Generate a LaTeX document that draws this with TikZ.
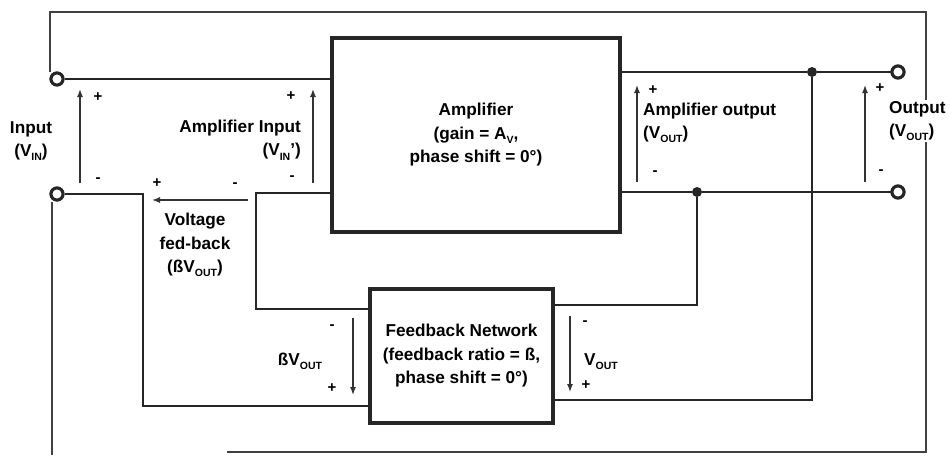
\documentclass[tikz,border=0pt]{standalone}
\usepackage{fontspec}
\setmainfont{Liberation Sans}
\usetikzlibrary{arrows.meta}
\newcommand{\lsub}[1]{\raisebox{-0.45ex}{\fontsize{10.5}{10.5}\selectfont #1}}

\begin{document}
\begin{tikzpicture}[
    x=1pt, y=-1pt,
    font=\fontsize{17.2}{23.5}\selectfont\bfseries,
    box/.style={
        rectangle, draw=black!85, line width=3.3pt,
        align=center, inner sep=0pt
    },
    term/.style={
        circle, draw=black!85, line width=3pt, fill=white,
        minimum size=12pt, inner sep=0pt
    },
    dot/.style={circle, fill=black!85, minimum size=10pt, inner sep=0pt},
    wire/.style={line width=2.7pt, black!85},
    frame/.style={line width=1.3pt, black!75},
    varr/.style={-{Latex[length=8pt,width=6pt]}, line width=1.3pt, black!80},
    sign/.style={font=\fontsize{15}{15}\selectfont\bfseries, inner sep=0pt},
    lbl/.style={inner sep=0pt},
]
\useasboundingbox (0,0) rectangle (950,455);

% Frame
\coordinate (fTL) at (50,12);
\coordinate (fTR) at (926,12);
\coordinate (fBR) at (926,452);
\coordinate (fBL) at (227,452);
\coordinate (fLB) at (52,455);

% Blocks
\node[box, minimum width=288pt, minimum height=194pt] (amp) at (476,135)
    {Amplifier\\(gain = A\lsub{V},\\phase shift = 0°)};
\node[box, minimum width=183pt, minimum height=134pt] (fb) at (461.5,356)
    {Feedback Network\\(feedback ratio = ß,\\phase shift = 0°)};

% Terminals and junctions
\node[term] (inTop) at (57,79) {};
\node[term] (inBot) at (57,194) {};
\node[term] (outTop) at (898,72) {};
\node[term] (outBot) at (898,192) {};
\node[dot] (jTop) at (812,72) {};
\node[dot] (jBot) at (697,192) {};

% Wire corners
\coordinate (c1) at (143,406);
\coordinate (c2) at (256,309);
\coordinate (c3) at (812,400);
\coordinate (c4) at (697,305);
\coordinate (ampInB) at (amp.west |- 0,193);

\draw[frame] (fBL) -- (fBR) -- (fTR) -- (fTL) -- (fTL |- inTop.north);
\draw[frame] (fLB |- inBot.south) -- (fLB);

% Wires
\draw[wire] (inTop) -- (inTop -| amp.west);
\draw[wire] (inBot) -| (c1) -- (c1 -| fb.west);
\draw[wire] (ampInB) -| (c2) -- (c2 -| fb.west);
\draw[wire] (amp.east |- outTop) -- (jTop) -- (outTop);
\draw[wire] (amp.east |- outBot) -- (jBot) -- (outBot);
\draw[wire] (jTop) -- (c3) -- (c3 -| fb.east);
\draw[wire] (jBot) -- (c4) -- (c4 -| fb.east);

% redraw terminals on top
\foreach \t in {inTop, inBot, outTop, outBot}
    \draw[black!85, line width=3pt, fill=white] (\t) circle (6pt);

% Voltage arrows
\foreach \nm/\px/\ya/\yb in {vin/80/183/89, vinp/313/183/89,
        aout/637/182/85, vout/865/182/85,
        bvout/353/318/395, voutfb/570/316/392} {
    \coordinate (\nm-s) at (\px,\ya);
    \coordinate (\nm-e) at (\px,\yb);
    \draw[varr] (\nm-s) -- (\nm-e);
}
\coordinate (vfb-s) at (248,200);
\coordinate (vfb-e) at (152,200);
\draw[varr] (vfb-s) -- (vfb-e);

% Polarity signs
\foreach \i/\px/\py/\s in {1/98/97/+, 2/98/180/-, 3/291/96/+, 4/292/178/-,
        5/157/183/+, 6/235/185/-, 7/653/90/+, 8/655/173/-,
        9/880/88/+, 10/881/172/-, 11/332/327/-, 12/332/388/+,
        13/585/323/-, 14/586/385/+}
    \node[sign] (s\i) at (\px,\py) {\s};

% Labels
\node[lbl, align=center] (lblIn) at (31,141) {Input\\(V\lsub{IN})};
\node[lbl, align=right, anchor=east] (lblAin) at (301,140)
    {Amplifier Input\\(V\lsub{IN}')};
\node[lbl, align=center] (lblFed) at (195,245)
    {Voltage\\fed-back\\(ßV\lsub{OUT})};
\node[lbl, align=left, anchor=west] (lblAout) at (643,123)
    {Amplifier output\\(V\lsub{OUT})};
\node[lbl, align=left, anchor=west, fill=white, inner sep=1pt] (lblOut) at (888,121)
    {Output\\(V\lsub{OUT})};
\node[lbl] (lblBv) at (300,361) {ßV\lsub{OUT}};
\node[lbl, anchor=west] (lblVo) at (584,362) {V\lsub{OUT}};

\end{tikzpicture}
\end{document}
